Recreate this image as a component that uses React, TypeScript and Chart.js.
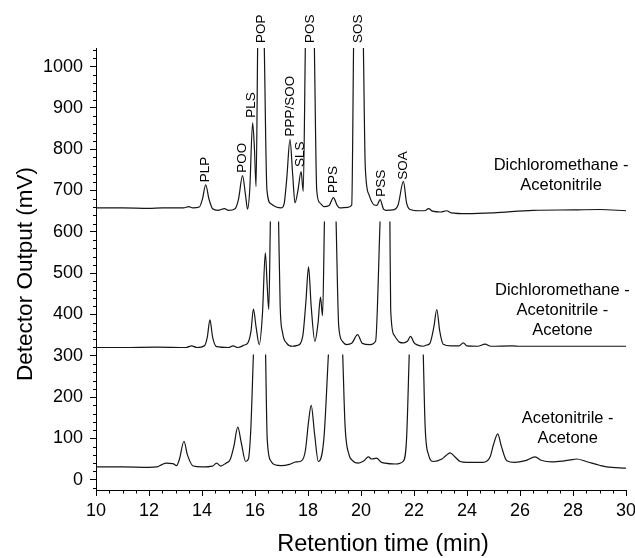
import React, { useEffect, useRef } from "react";
import { Chart, registerables } from "chart.js";

Chart.register(...registerables);

type Pt = [number, number | null];

const xTicks = [10, 12, 14, 16, 18, 20, 22, 24, 26, 28, 30];
const yTicks = [0, 100, 200, 300, 400, 500, 600, 700, 800, 900, 1000];

// Dichloromethane - Acetonitrile (top trace)
const dcmAcn: Pt[] = [
  [10, 658], [11, 658], [12, 657], [12.5, 658], [13.3, 658], [13.5, 661], [13.65, 658],
  [13.9, 660], [14.02, 680], [14.14, 714], [14.26, 680], [14.4, 656], [14.6, 652],
  [14.85, 656], [15.0, 652], [15.25, 656], [15.38, 680], [15.53, 736], [15.64, 690],
  [15.72, 655], [15.8, 700], [15.91, 864], [15.98, 800], [16.04, 710], [16.1, 1050],
  [16.2, null],
  [16.35, 1050], [16.45, 702], [16.6, 668], [16.8, 660], [17.0, 658], [17.1, 668],
  [17.2, 730], [17.32, 823], [17.42, 740], [17.51, 670], [17.62, 700], [17.74, 746],
  [17.82, 698], [17.9, 1050],
  [18.05, null],
  [18.24, 1050], [18.33, 700], [18.45, 670], [18.6, 661], [18.8, 664], [18.96, 683],
  [19.1, 664], [19.2, 658], [19.5, 659], [19.65, 665], [19.72, 1050],
  [19.9, null],
  [20.09, 1050], [20.16, 760], [20.3, 690], [20.5, 665], [20.6, 664], [20.72, 678],
  [20.85, 655], [20.95, 652], [21.2, 653], [21.4, 665], [21.6, 722], [21.72, 670],
  [21.85, 654], [22.2, 651], [22.4, 651], [22.55, 656], [22.7, 650], [23.0, 648],
  [23.23, 651], [23.4, 646], [24.0, 644], [25.0, 646], [26.5, 652], [28.0, 653],
  [29.0, 654], [30.0, 651],
];

// Dichloromethane - Acetonitrile - Acetone (middle trace)
const dcmAcnAce: Pt[] = [
  [10, 320], [11, 320], [12.3, 321], [13.4, 320], [13.61, 324], [13.8, 320], [14.1, 325],
  [14.2, 345], [14.3, 387], [14.4, 345], [14.55, 322], [15.0, 320], [15.17, 324],
  [15.35, 320], [15.6, 326], [15.74, 332], [15.85, 360], [15.94, 413], [16.04, 370],
  [16.16, 327], [16.28, 400], [16.39, 549], [16.46, 470], [16.52, 412], [16.58, 625],
  [16.7, null],
  [16.89, 625], [16.95, 420], [17.04, 356], [17.2, 330], [17.4, 323], [17.6, 325],
  [17.8, 347], [17.92, 430], [18.02, 515], [18.12, 420], [18.26, 335], [18.38, 380],
  [18.47, 442], [18.55, 397], [18.62, 625],
  [18.8, null],
  [19.06, 625], [19.16, 371], [19.3, 335], [19.45, 327], [19.65, 330], [19.87, 351],
  [20.05, 330], [20.34, 327], [20.55, 335], [20.72, 625],
  [20.9, null],
  [21.09, 625], [21.12, 412], [21.25, 350], [21.45, 333], [21.6, 331], [21.75, 335],
  [21.87, 347], [22.0, 332], [22.1, 327], [22.35, 323], [22.48, 326], [22.6, 330],
  [22.75, 370], [22.86, 412], [22.97, 360], [23.1, 328], [23.4, 324], [23.7, 324],
  [23.86, 331], [24.0, 324], [24.4, 323], [24.68, 328], [24.9, 323], [25.7, 324],
  [26.0, 323], [30.0, 323],
];

// Acetonitrile - Acetone (bottom trace)
const acnAce: Pt[] = [
  [10, 31], [11, 31], [12.0, 30], [12.3, 31], [12.5, 37], [12.65, 40], [12.9, 39],
  [13.04, 34], [13.15, 50], [13.32, 93], [13.45, 60], [13.67, 33], [14.0, 31],
  [14.4, 33], [14.55, 40], [14.71, 33], [14.9, 40], [15.06, 48], [15.2, 80],
  [15.35, 127], [15.48, 90], [15.65, 44], [15.75, 50], [15.84, 120], [15.94, 303],
  [16.15, null],
  [16.4, 303], [16.46, 100], [16.6, 45], [16.75, 36], [17.0, 34], [17.3, 37],
  [17.55, 43], [17.7, 44], [17.9, 70], [18.02, 140], [18.12, 180], [18.25, 110],
  [18.39, 44], [18.6, 100], [18.77, 303],
  [19.0, null],
  [19.31, 303], [19.4, 129], [19.55, 60], [19.65, 48], [19.9, 40], [20.1, 45],
  [20.28, 55], [20.4, 50], [20.59, 52], [20.75, 43], [20.9, 40], [21.3, 38],
  [21.6, 45], [21.72, 100], [21.82, 303],
  [22.1, null],
  [22.35, 303], [22.42, 129], [22.55, 60], [22.73, 44], [23.05, 50], [23.2, 58],
  [23.36, 65], [23.55, 55], [23.74, 44], [24.0, 42], [24.6, 42], [24.87, 55],
  [25.0, 85], [25.16, 111], [25.3, 80], [25.5, 46], [25.8, 42], [26.2, 46],
  [26.57, 55], [26.8, 47], [27.2, 43], [27.6, 45], [27.9, 48], [28.14, 50],
  [28.5, 44], [29.0, 35], [29.27, 31], [30.0, 28],
];

const peakNames = ["PLP", "POO", "PLS", "POP", "PPP/SOO", "SLS", "POS", "PPS", "SOS", "PSS", "SOA"];
const peakTimes = [14.14, 15.53, 15.87, 16.25, 17.35, 17.7, 18.08, 18.96, 19.9, 20.78, 21.6];
const peakLabelBase = [720, 743, 876, 1057, 831, 757, 1057, 694, 1057, 685, 726];

const solventLines = [
  ["Dichloromethane -", "Acetonitrile"],
  ["Dichloromethane -", "Acetonitrile -", "Acetone"],
  ["Acetonitrile -", "Acetone"],
];
const solventTimes = [27.55, 27.6, 27.8];
const solventValues = [760, 458, 148];

const FONT = "Arial, 'Liberation Sans', sans-serif";

const toXY = (pts: Pt[]) => pts.map(([x, y]) => ({ x, y }));

const decorPlugin = {
  id: "decor",
  afterDraw(chart: any) {
    const { ctx, scales } = chart;
    const xs = scales.x;
    const ys = scales.y;
    const area = chart.chartArea;
    ctx.save();
    // minor ticks
    ctx.strokeStyle = "#000";
    ctx.lineWidth = 1;
    ctx.beginPath();
    for (let v = -20; v <= 1040; v += 20) {
      if (v % 100 === 0) continue;
      const py = Math.round(ys.getPixelForValue(v)) + 0.5;
      ctx.moveTo(area.left - 3, py);
      ctx.lineTo(area.left, py);
    }
    for (let t = 10; t <= 30; t += 0.5) {
      if (t % 2 === 0) continue;
      const px = Math.round(xs.getPixelForValue(t)) + 0.5;
      ctx.moveTo(px, area.bottom);
      ctx.lineTo(px, area.bottom + 3.5);
    }
    ctx.stroke();

    ctx.fillStyle = "#000";
    // peak labels
    ctx.font = `13.5px ${FONT}`;
    ctx.textAlign = "left";
    ctx.textBaseline = "middle";
    peakNames.forEach((name, i) => {
      const px = xs.getPixelForValue(peakTimes[i]);
      const py = ys.getPixelForValue(peakLabelBase[i]);
      ctx.save();
      ctx.translate(px, py);
      ctx.rotate(-Math.PI / 2);
      ctx.fillText(name, 0, 0);
      ctx.restore();
    });

    // solvent labels
    ctx.font = `16.5px ${FONT}`;
    ctx.textAlign = "center";
    ctx.textBaseline = "middle";
    solventLines.forEach((lines, i) => {
      const px = xs.getPixelForValue(solventTimes[i]);
      const py = ys.getPixelForValue(solventValues[i]);
      lines.forEach((line, j) => {
        ctx.fillText(line, px, py + j * 20);
      });
    });

    // axis titles
    ctx.font = `22.5px ${FONT}`;
    ctx.textAlign = "center";
    ctx.textBaseline = "alphabetic";
    ctx.save();
    ctx.translate(32, (area.top + area.bottom) / 2 + 5);
    ctx.rotate(-Math.PI / 2);
    ctx.fillText("Detector Output (mV)", 0, 0);
    ctx.restore();
    ctx.font = `23.5px ${FONT}`;
    ctx.fillText("Retention time (min)", 383, 551);
    ctx.restore();
  },
};

export default function App() {
  const ref = useRef<HTMLCanvasElement | null>(null);

  useEffect(() => {
    if (!ref.current) return;
    const lineStyle = {
      borderColor: "#151515",
      borderWidth: 1.2,
      pointRadius: 0,
      fill: false,
      spanGaps: false,
      cubicInterpolationMode: "monotone" as const,
    };
    const chart = new Chart(ref.current, {
      type: "line",
      data: {
        datasets: [
          { label: "Dichloromethane - Acetonitrile", data: toXY(dcmAcn), ...lineStyle },
          { label: "Dichloromethane - Acetonitrile - Acetone", data: toXY(dcmAcnAce), ...lineStyle },
          { label: "Acetonitrile - Acetone", data: toXY(acnAce), ...lineStyle },
        ],
      },
      options: {
        animation: false,
        responsive: false,
        devicePixelRatio: 1,
        layout: { padding: { left: 0, right: 9, top: 48, bottom: 0 } },
        plugins: { legend: { display: false }, tooltip: { enabled: false } },
        scales: {
          x: {
            type: "linear",
            min: 10,
            max: 30,
            afterBuildTicks: (s: any) => {
              s.ticks = xTicks.map((v) => ({ value: v }));
            },
            afterFit: (s: any) => {
              s.height = 68;
              s.paddingLeft = 0;
              s.paddingRight = 0;
            },
            ticks: {
              color: "#000",
              font: { family: FONT, size: 18 },
              padding: 4,
              maxRotation: 0,
              autoSkip: false,
              callback: (v: any) => String(v),
            },
            grid: { drawOnChartArea: false, drawTicks: true, tickLength: 6, color: "#000" },
            border: { display: true, color: "#000", width: 1 },
          },
          y: {
            type: "linear",
            min: -25,
            max: 1045,
            afterBuildTicks: (s: any) => {
              s.ticks = yTicks.map((v) => ({ value: v }));
            },
            afterFit: (s: any) => {
              s.width = 96;
              s.paddingTop = 0;
              s.paddingBottom = 0;
            },
            ticks: {
              color: "#000",
              font: { family: FONT, size: 18 },
              padding: 7,
              autoSkip: false,
              callback: (v: any) => String(v),
            },
            grid: { drawOnChartArea: false, drawTicks: true, tickLength: 6, color: "#000" },
            border: { display: true, color: "#000", width: 1 },
          },
        },
      },
      plugins: [decorPlugin],
    });
    return () => chart.destroy();
  }, []);

  return (
    <div style={{ position: "absolute", left: 0, top: 0, width: 635, height: 558, background: "#fff" }}>
      <canvas ref={ref} width={635} height={558} style={{ display: "block", width: 635, height: 558 }} />
    </div>
  );
}
